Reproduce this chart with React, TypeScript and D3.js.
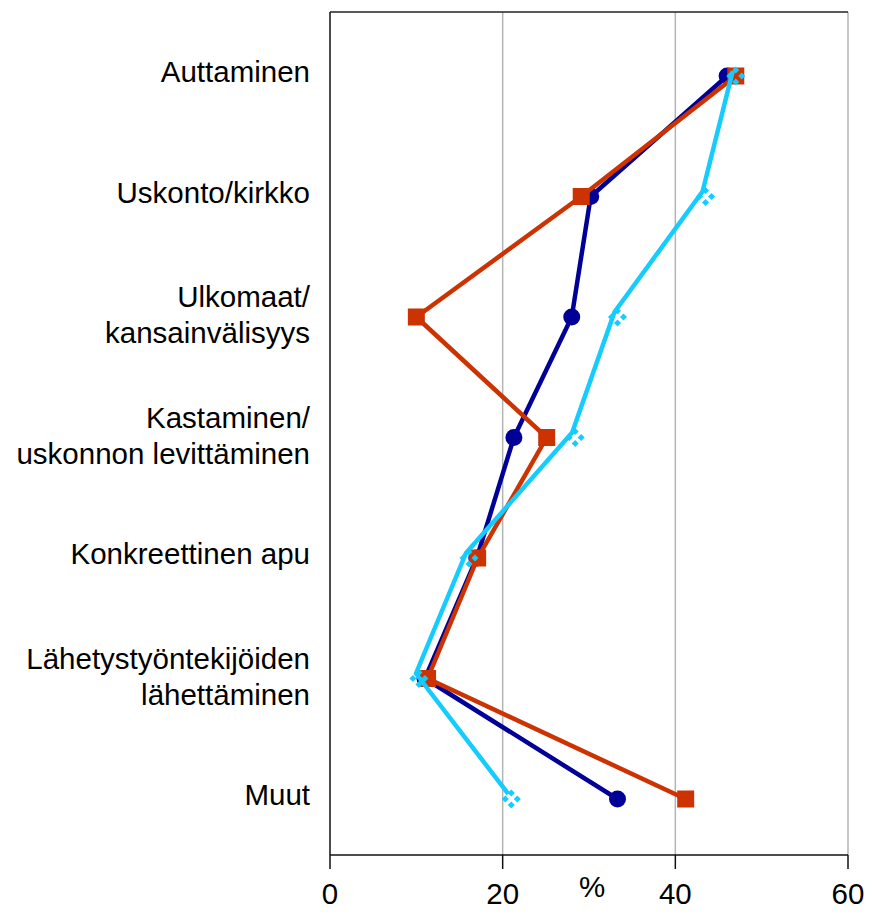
import React from "react";
import * as d3 from "d3";

const categories: string[][] = [
  ["Auttaminen"],
  ["Uskonto/kirkko"],
  ["Ulkomaat/", "kansainvälisyys"],
  ["Kastaminen/", "uskonnon levittäminen"],
  ["Konkreettinen apu"],
  ["Lähetystyöntekijöiden", "lähettäminen"],
  ["Muut"],
];
const catKeys = categories.map((c) => c.join(" "));

const seriesBlue = [46, 30.2, 28, 21.3, 17, 11, 33.3];
const seriesOrange = [47, 29.1, 10, 25.1, 17.1, 11.3, 41.2];
const seriesCyan = [47, 43.5, 33.3, 28.4, 16.1, 10.3, 21];

const xTicks = [0, 20, 40, 60];
const axisTitle = "%";

const W = 879;
const H = 917;
const left = 330;
const right = 848;
const top = 12;
const bottom = 855;
const font = "'Liberation Sans', Arial, Helvetica, sans-serif";
const fs = 29.5;

export default function App() {
  const x = d3.scaleLinear().domain([0, 60]).range([left, right]);
  const y = d3.scalePoint<string>().domain(catKeys).range([76, 799]);

  const line = d3
    .line<number>()
    .x((d) => x(d))
    .y((_, i) => y(catKeys[i]) as number);
  const lineCyan = d3
    .line<number>()
    .x((d) => x(d) - 3)
    .y((_, i) => (y(catKeys[i]) as number) - 5);

  const blue = "#000099";
  const orange = "#CC3300";
  const cyan = "#14CCFF";

  return (
    <svg
      width={W}
      height={H}
      style={{ position: "absolute", left: 0, top: 0 }}
      fontFamily={font}
    >
      <rect x={0} y={0} width={W} height={H} fill="#fff" />
      {xTicks.slice(1).map((t) => (
        <line
          key={"g" + t}
          x1={x(t)}
          x2={x(t)}
          y1={top}
          y2={bottom}
          stroke="#b4b4b4"
          strokeWidth={1.5}
        />
      ))}
      <line x1={left} x2={right} y1={top} y2={top} stroke="#222" strokeWidth={1.5} />
      <line x1={left} x2={left} y1={top} y2={bottom} stroke="#111" strokeWidth={1.5} />
      <line x1={left} x2={right} y1={bottom} y2={bottom} stroke="#111" strokeWidth={1.5} />
      {xTicks.map((t) => (
        <g key={"t" + t}>
          <line x1={x(t)} x2={x(t)} y1={bottom} y2={bottom + 14} stroke="#111" strokeWidth={1.5} />
          <text x={x(t)} y={904} fontSize={fs} textAnchor="middle" fill="#000">
            {t}
          </text>
        </g>
      ))}
      <text x={592} y={897} fontSize={fs} textAnchor="middle" fill="#000">
        {axisTitle}
      </text>

      {categories.map((c, i) => {
        const cy = y(catKeys[i]) as number;
        if (c.length === 1) {
          return (
            <text key={i} x={310} y={cy + 6} fontSize={fs} textAnchor="end" fill="#000">
              {c[0]}
            </text>
          );
        }
        return (
          <text key={i} x={310} y={cy - 10} fontSize={fs} textAnchor="end" fill="#000">
            <tspan x={310} y={cy - 10}>
              {c[0]}
            </tspan>
            <tspan x={310} y={cy + 26}>
              {c[1]}
            </tspan>
          </text>
        );
      })}

      <path d={line(seriesBlue) || ""} fill="none" stroke={blue} strokeWidth={4.5} strokeLinejoin="round" />
      {seriesBlue.map((v, i) => (
        <circle key={"b" + i} cx={x(v)} cy={y(catKeys[i]) as number} r={8.5} fill={blue} />
      ))}

      <path d={line(seriesOrange) || ""} fill="none" stroke={orange} strokeWidth={4.5} strokeLinejoin="round" />
      {seriesOrange.map((v, i) => (
        <rect
          key={"o" + i}
          x={x(v) - 8.5}
          y={(y(catKeys[i]) as number) - 8.5}
          width={17}
          height={17}
          fill={orange}
        />
      ))}

      {seriesCyan.map((v, i) => {
        const cx = x(v);
        const cy = y(catKeys[i]) as number;
        const offs = [
          [0, -6],
          [-6, 0],
          [6, 0],
          [0, 6],
        ];
        return (
          <g key={"c" + i}>
            {offs.map(([dx, dy], j) => (
              <rect
                key={j}
                x={cx + dx - 2.5}
                y={cy + dy - 2.5}
                width={5}
                height={5}
                fill={cyan}
                transform={`rotate(45 ${cx + dx} ${cy + dy})`}
              />
            ))}
          </g>
        );
      })}
      <path d={lineCyan(seriesCyan) || ""} fill="none" stroke={cyan} strokeWidth={4.5} strokeLinejoin="round" />
    </svg>
  );
}
